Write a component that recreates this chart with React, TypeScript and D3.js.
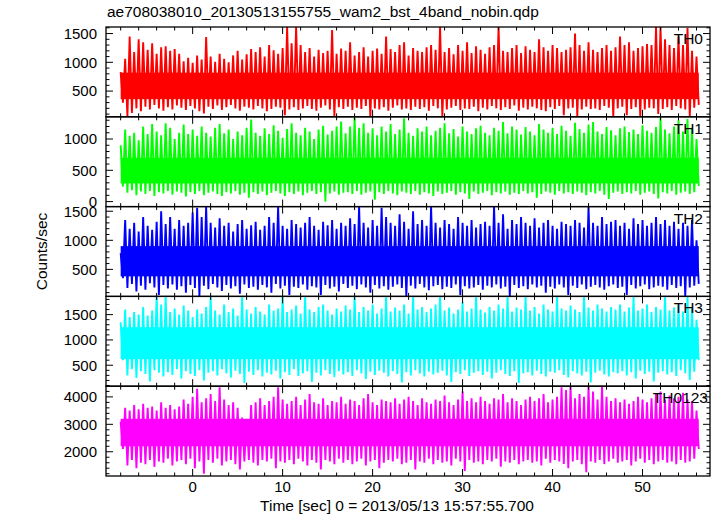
import React from 'react';
import * as d3 from 'd3';

const TITLE = "ae708038010_20130513155755_wam2_bst_4band_nobin.qdp";
const X_LABEL = "Time [sec] 0 = 2013/05/13 15:57:55.700";
const Y_LABEL = "Counts/sec";
const X_MAJOR = [0, 10, 20, 30, 40, 50];
const T_START = -8;
const T_STEP = 0.5;

const PANEL_NAMES = ["TH0", "TH1", "TH2", "TH3", "TH0123"];
const PANEL_COLORS = ["#ff0000", "#00ff00", "#0000ff", "#00ffff", "#ff00ff"];
const Y_DOMAINS: [number, number][] = [[53, 1614], [-80, 1355], [35, 1580], [86, 1860], [1116, 4390]];
const Y_TICKS = [[500, 1000, 1500], [0, 500, 1000], [500, 1000, 1500], [500, 1000, 1500], [2000, 3000, 4000]];
const Y_MINOR = [100, 100, 100, 100, 200];
// densely filled band of each light curve (counts/sec)
const CORE_LO = [360, 290, 380, 620, 2200];
const CORE_HI = [820, 700, 900, 1250, 3200];

// peak (hi) and trough (lo) counts in each 0.5 s slot
const TH0_HI = [830,1060,1450,1180,1400,1350,1220,1330,1150,1260,
1280,1200,1230,1150,1020,1080,990,1120,1050,1440,
1100,1010,1150,1060,1000,1120,1200,1050,1140,1230,
1180,1260,1100,1300,1210,1150,1250,1615,1330,1615,
1300,1180,1250,1100,1220,1160,1200,1560,1150,1240,
1200,1350,1120,1180,1260,1100,1200,1240,1150,1450,
1230,1180,1300,1350,1120,1250,1200,1180,1260,1300,
1220,1615,1180,1250,1140,1300,1200,1350,1160,1280,
1220,1150,1260,1300,1615,1200,1180,1250,1300,1160,
1280,1220,1180,1400,1260,1200,1300,1250,1180,1220,
1260,1500,1300,1200,1350,1220,1180,1250,1300,1200,
1260,1450,1300,1350,1200,1250,1280,1320,1300,1615,
1615,1400,1300,1250,1450,1300,1600,1200,1100];
const TH0_LO = [300,60,120,200,150,230,180,260,200,160,
220,180,250,210,170,240,200,150,110,230,
190,250,170,220,260,200,160,230,210,180,
240,200,150,190,230,210,80,180,220,170,
200,240,190,160,210,250,180,60,220,190,
230,170,210,190,240,60,200,180,220,160,
210,250,180,200,170,230,190,220,160,240,
200,60,180,210,240,170,200,190,230,150,
210,180,240,200,170,220,190,250,160,210,
180,230,200,170,150,220,190,240,80,200,
210,60,180,230,190,200,170,240,210,60,
200,230,80,190,220,60,180,210,200,100,
190,220,170,240,200,180,60,210,260];

const TH1_HI = [900,1150,1050,1100,980,1200,1080,1240,1120,1060,
1250,1180,1000,1100,1230,1080,1150,1050,1200,1100,
1040,1180,1240,1090,1150,1000,1120,1060,1180,1310,
1100,1050,1170,1080,1220,1130,1020,1160,1250,1100,
1060,1180,1120,1000,1150,1210,1070,1130,1200,1280,
1090,1200,1340,1180,1250,1100,1170,1060,1200,1120,
1240,1080,1150,1330,1100,1050,1170,1120,1200,1060,
1130,1180,1250,1090,1160,1040,1200,1120,1080,1170,
1210,1100,1060,1180,1130,1270,1090,1200,1150,1070,
1190,1120,1060,1240,1150,1100,1180,1080,1210,1130,
1050,1260,1160,1100,1230,1270,1120,1080,1190,1140,
1060,1170,1200,1110,1150,1080,1220,1130,1100,1190,
1340,1150,1090,1200,1300,1120,1320,1180,1000];
const TH1_LO = [240,140,180,100,160,120,170,90,150,130,
170,110,160,140,80,150,120,170,100,140,
160,120,90,150,130,170,110,140,60,150,
120,160,100,140,170,130,90,150,120,160,
100,140,170,120,150,0,130,160,110,140,
150,120,170,110,140,160,30,150,120,170,
130,100,160,140,120,170,110,150,130,90,
160,120,140,170,110,150,130,40,160,120,
140,170,100,150,130,160,110,140,120,170,
130,150,60,120,160,140,110,170,130,150,
120,160,140,100,150,130,170,110,40,140,
160,120,150,130,170,110,140,160,120,50,
150,130,170,110,140,160,120,150,250];

const TH2_HI = [780,1350,1200,1300,1150,1400,1250,1180,1320,1500,
1280,1400,1200,1350,1250,1300,1480,1560,1400,1580,
1300,1220,1380,1250,1300,1150,1280,1350,1200,1260,
1320,1180,1250,1400,1300,1580,1250,1200,1350,1280,
1220,1300,1400,1250,1180,1320,1260,1350,1200,1300,
1250,1380,1280,1580,1300,1220,1350,1250,1560,1400,
1300,1250,1450,1320,1200,1500,1280,1350,1250,1580,
1300,1220,1350,1280,1200,1400,1300,1250,1350,1220,
1280,1320,1250,1580,1300,1450,1200,1350,1280,1400,
1300,1250,1380,1220,1300,1350,1250,1200,1320,1280,
1250,1350,1300,1220,1580,1300,1250,1400,1280,1320,
1350,1250,1300,1200,1380,1280,1350,1250,1300,1400,
1280,1350,1250,1320,1200,1300,1250,1350,1000];
const TH2_LO = [350,180,250,120,220,150,260,190,60,230,
170,240,150,210,100,230,180,40,220,160,
250,190,130,230,170,210,80,240,180,200,
150,230,190,100,250,170,220,60,200,180,
240,150,210,190,60,230,170,200,120,250,
180,220,160,240,190,100,230,170,210,150,
200,240,180,40,220,170,250,190,140,210,
230,160,200,180,240,60,210,170,190,230,
150,220,190,240,170,200,40,230,180,210,
160,240,190,220,100,200,170,240,190,60,
220,180,240,160,200,230,190,150,210,240,
180,200,60,230,170,210,240,160,190,220,
200,150,230,180,210,40,190,220,250];

const TH3_HI = [1350,1600,1450,1550,1500,1650,1480,1580,1860,1700,
1860,1550,1620,1500,1680,1580,1450,1600,1520,1650,
1860,1580,1500,1700,1550,1620,1480,1860,1600,1520,
1650,1560,1500,1700,1580,1620,1860,1550,1600,1680,
1520,1860,1600,1550,1650,1700,1580,1500,1620,1560,
1680,1600,1860,1550,1650,1580,1700,1520,1620,1860,
1560,1640,1580,1700,1520,1860,1600,1650,1550,1620,
1700,1860,1580,1640,1520,1600,1750,1560,1620,1860,
1600,1540,1650,1580,1700,1620,1860,1560,1640,1600,
1860,1580,1650,1520,1700,1600,1560,1860,1620,1580,
1680,1600,1550,1860,1640,1580,1700,1620,1560,1650,
1600,1700,1560,1640,1860,1580,1620,1700,1550,1650,
1600,1860,1580,1640,1700,1560,1860,1620,1400];
const TH3_LO = [600,300,420,250,380,330,180,400,350,280,
360,310,420,240,380,330,290,400,200,350,
380,300,420,340,260,390,330,150,370,310,
400,280,350,320,390,240,360,310,420,290,
340,380,170,350,300,400,330,270,380,320,
360,290,400,340,230,370,310,390,350,280,
380,330,160,360,300,400,340,280,370,320,
350,390,300,170,360,330,400,290,350,380,
310,370,240,350,400,330,290,380,150,340,
360,300,390,330,280,370,350,400,310,260,
380,340,300,370,160,350,390,320,280,360,
340,380,300,360,240,390,330,370,180,350,
380,320,360,290,400,340,210,370,600];

const TH0123_HI = [3100,3600,3500,3700,3550,3750,3600,3650,3500,3800,
3600,3700,3550,3650,3900,3750,4000,4300,3800,3950,
4100,3850,4350,3900,3700,3800,3600,3250,3200,3700,
3800,3950,3700,3850,4000,4350,3900,3750,3850,4000,
3700,3900,4100,3800,3750,3950,3700,3850,3800,4000,
3750,3900,3850,3700,3950,4100,3800,3700,3900,3850,
3800,3950,3750,3900,4000,3850,3700,3950,3800,3750,
3900,3850,4050,3800,3700,3900,4200,3850,3950,3800,
4000,3850,3750,3950,3900,4100,3800,3950,3850,3700,
3900,4000,3850,3950,4100,3800,3900,4000,4350,4250,
4390,3950,4100,4000,4390,4200,3900,4390,4000,3850,
3950,3800,3900,3750,3850,4000,3900,3800,3950,4100,
4200,3900,4050,3950,4000,4150,3900,3850,3500];
const TH0123_LO = [2100,1500,1700,1400,1600,1550,1700,1450,1650,1600,
1750,1500,1650,1700,1550,1750,1400,1650,1200,1700,
1600,1750,1500,1650,1700,1550,1350,1650,1700,1600,
1500,1700,1650,1750,1400,1650,1600,1700,1550,1750,
1650,1500,1700,1600,1350,1700,1650,1550,1750,1600,
1700,1550,1650,1750,1500,1650,1700,1400,1600,1700,
1650,1750,1550,1600,1700,1350,1650,1600,1750,1550,
1700,1600,1650,1500,1750,1650,1300,1700,1600,1650,
1550,1700,1650,1750,1450,1650,1600,1700,1550,1650,
1700,1600,1650,1500,1750,1600,1700,1650,1550,1400,
1650,1700,1550,1250,1650,1600,1700,1550,1650,1750,
1600,1650,1700,1500,1650,1750,1600,1700,1550,1650,
1700,1600,1650,1550,1700,1600,1650,1750,2100];

const SERIES_HI = [TH0_HI, TH1_HI, TH2_HI, TH3_HI, TH0123_HI];
const SERIES_LO = [TH0_LO, TH1_LO, TH2_LO, TH3_LO, TH0123_LO];

const W = 717, H = 516;
const LEFT = 106, RIGHT = 710, TOP = 27, BOTTOM = 476;
const PANEL_H = (BOTTOM - TOP) / 5;
const FONT = "'Liberation Sans', Arial, Helvetica, sans-serif";

export default function App() {
  const x = d3.scaleLinear().domain([-9.63, 57.5]).range([LEFT, RIGHT]);
  const xMinor = d3.range(-8, 57.5, 2);

  return (
    <svg width={W} height={H} style={{ position: 'absolute', left: 0, top: 0, background: '#fff' }}
      fontFamily={FONT}>
      <rect x={0} y={0} width={W} height={H} fill="#fff" />
      <text x={107} y={17} fontSize={15.5}>{TITLE}</text>
      {PANEL_NAMES.map((name, p) => {
        const top = TOP + p * PANEL_H;
        const bot = top + PANEL_H;
        const y = d3.scaleLinear().domain(Y_DOMAINS[p]).range([bot, top]);
        const hi = SERIES_HI[p], lo = SERIES_LO[p];
        const pts: [number, number][] = [];
        hi.forEach((v, i) => {
          const t = T_START + i * T_STEP;
          pts.push([t, v]);
          pts.push([t + T_STEP / 2, lo[i]]);
        });
        const tEnd = T_START + (hi.length - 1) * T_STEP + T_STEP / 2;
        const line = d3.line<[number, number]>().x(d => x(d[0])).y(d => y(d[1]));
        const [d0, d1] = Y_DOMAINS[p];
        const minor = d3.range(Math.ceil(d0 / Y_MINOR[p]) * Y_MINOR[p], d1, Y_MINOR[p]);
        const majorSet = new Set(Y_TICKS[p]);
        return (
          <g key={name}>
            <clipPath id={`clip${p}`}>
              <rect x={LEFT} y={top} width={RIGHT - LEFT} height={PANEL_H} />
            </clipPath>
            <g clipPath={`url(#clip${p})`}>
              <rect x={x(T_START)} width={x(tEnd) - x(T_START)} y={y(CORE_HI[p])}
                height={y(CORE_LO[p]) - y(CORE_HI[p])} fill={PANEL_COLORS[p]} />
              <path d={line(pts) || ''} fill="none" stroke={PANEL_COLORS[p]} strokeWidth={1.9}
                strokeLinejoin="miter" strokeMiterlimit={2} />
            </g>
            {minor.map(v => {
              const len = majorSet.has(v) ? 7 : 3.5;
              const yy = y(v);
              return (
                <g key={`y${v}`} stroke="#000" strokeWidth={1}>
                  <line x1={LEFT} x2={LEFT + len} y1={yy} y2={yy} />
                  <line x1={RIGHT} x2={RIGHT - len} y1={yy} y2={yy} />
                </g>
              );
            })}
            {xMinor.map(v => {
              const len = X_MAJOR.includes(v) ? 7 : 3.5;
              const xx = x(v);
              return (
                <g key={`x${v}`} stroke="#000" strokeWidth={1}>
                  <line x1={xx} x2={xx} y1={top} y2={top + len} />
                  <line x1={xx} x2={xx} y1={bot} y2={bot - len} />
                </g>
              );
            })}
            <rect x={LEFT} y={top} width={RIGHT - LEFT} height={PANEL_H} fill="none" stroke="#000" strokeWidth={1.3} />
            {Y_TICKS[p].map(v => (
              <text key={`yl${v}`} x={97} y={y(v)} dy="0.36em" textAnchor="end" fontSize={15}>{v}</text>
            ))}
            <text x={p === 4 ? 708 : 703} y={top + 17} textAnchor="end" fontSize={15.5}>{name}</text>
          </g>
        );
      })}
      {X_MAJOR.map(v => (
        <text key={`xl${v}`} x={x(v)} y={492} textAnchor="middle" fontSize={15}>{v}</text>
      ))}
      <text x={397} y={511} textAnchor="middle" fontSize={15.5}>{X_LABEL}</text>
      <text transform={`translate(47,${(TOP + BOTTOM) / 2}) rotate(-90)`} textAnchor="middle" fontSize={15.5}>{Y_LABEL}</text>
    </svg>
  );
}
